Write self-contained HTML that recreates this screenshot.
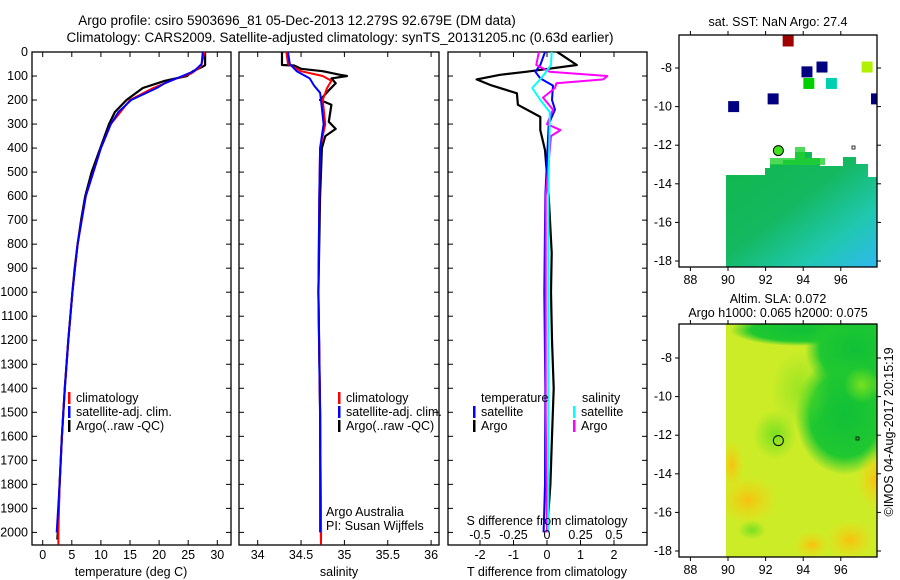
<!DOCTYPE html>
<html><head><meta charset="utf-8"><style>
body{margin:0;background:#fff}
svg{display:block;font-family:"Liberation Sans",sans-serif}
text{font-size:12.5px;fill:#000}
</style></head><body>
<svg id="c" width="900" height="580" viewBox="0 0 900 580" xmlns="http://www.w3.org/2000/svg">
<defs>
<linearGradient id="sstg" x1="0" y1="0" x2="1" y2="1">
<stop offset="0" stop-color="#10b84a"/><stop offset="0.45" stop-color="#14b860"/><stop offset="0.75" stop-color="#20c8b0"/><stop offset="1" stop-color="#30b8f0"/></linearGradient>
<radialGradient id="gblob"><stop offset="0" stop-color="#10c038"/><stop offset="0.7" stop-color="#20c830"/><stop offset="1" stop-color="#20c830" stop-opacity="0"/></radialGradient>
<radialGradient id="oblob"><stop offset="0" stop-color="#f8c010"/><stop offset="1" stop-color="#f0d810" stop-opacity="0"/></radialGradient>
<radialGradient id="lblob"><stop offset="0" stop-color="#78e020"/><stop offset="1" stop-color="#78e020" stop-opacity="0"/></radialGradient>
<clipPath id="m2clip"><rect x="726" y="324" width="151" height="233"/></clipPath>
</defs>
<text x="297" y="25" text-anchor="middle" style="font-size:13.5px">Argo profile: csiro 5903696_81 05-Dec-2013 12.279S 92.679E (DM data)</text>
<text x="340" y="42" text-anchor="middle" style="font-size:13.5px">Climatology: CARS2009. Satellite-adjusted climatology: synTS_20131205.nc (0.63d earlier)</text>
<g id="g"></g>
</svg>
<script>
// ---- data ----
const depthTicks=[0,100,200,300,400,500,600,700,800,900,1000,1100,1200,1300,1400,1500,1600,1700,1800,1900,2000];
const tempTicks=[0,5,10,15,20,25,30];
const salTicks=[34,34.5,35,35.5,36];
const tdiffTicks=[-2,-1,0,1,2];
const sdiffTicks=[-0.5,-0.25,0,0.25,0.5];
const sdiffLabels=["-0.5","-0.25","0","0.25","0.5"];
// temperature
const argoTdep=[0,55,62,80,100,120,150,200,250,300,400,500,600,700,800,900,1000,1200,1400,1600,1800,2000,2030];
const argoT=[27.9,27.9,27.4,25.8,24.8,21,17.2,14.4,12.4,11.4,9.9,8.4,7.3,6.6,6.0,5.5,5.1,4.4,3.8,3.3,2.9,2.6,2.5];
const climTdep=[0,60,90,110,150,200,300,400,600,800,1000,1200,1400,1600,1800,2000,2050];
const climT=[27.8,27.2,25.5,23,19,15,11.7,10,7.4,6.0,5.1,4.4,3.8,3.3,2.9,2.7,2.7];
const satTdep=[0,50,80,100,130,150,200,250,300,400,600,800,1000,1200,1400,1600,1800,2000];
const satT=[27.5,27.3,26,24,21,19.6,15.2,13,11.7,10,7.4,6.0,5.1,4.4,3.8,3.3,2.9,2.4];
// salinity
const argoSdep=[0,54,56,70,80,95,100,110,130,160,200,220,290,320,350,400,600,1000,1500,2000,2030];
const argoS=[34.28,34.28,34.42,34.5,34.75,34.95,35.03,34.85,34.9,34.82,34.72,34.85,34.82,34.9,34.78,34.74,34.72,34.7,34.72,34.73,34.73];
const climSdep=[0,50,80,100,120,150,200,300,400,600,1000,1500,2000,2050];
const climS=[34.33,34.35,34.5,34.75,34.85,34.8,34.75,34.78,34.72,34.71,34.7,34.72,34.73,34.73];
const satSdep=[0,50,80,110,140,170,200,300,400,600,1000,1500,2000];
const satS=[34.35,34.37,34.45,34.6,34.65,34.72,34.73,34.76,34.72,34.71,34.7,34.72,34.72];
// differences
const tdDep=[0,12,54,82,95,114,137,172,220,270,325,408,600,837,1000,1200,1400,1600,1800,2000];
const argoTd=[0.3,0.44,0.89,-0.6,-1.4,-2.1,-1.7,-0.9,-0.87,-0.2,-0.2,-0.06,0.05,0.14,0.12,0.15,0.2,0.15,0.1,0.0];
const satTdDep=[0,54,82,110,140,200,240,300,600,1000,1400,1800,2000];
const satTd=[-0.06,-0.2,-0.35,-0.2,0.18,0.15,0.24,0.05,-0.05,-0.08,-0.05,-0.06,-0.1];
const sdDep=[0,12,54,82,100,114,130,150,190,240,300,325,350,600,1000,1500,2000];
const argoSd=[-0.06,-0.065,-0.08,0.02,0.45,0.42,0.07,0.06,-0.03,0.045,0,0.1,0.03,-0.01,-0.01,-0.01,0];
const satSdDep=[0,54,100,150,200,250,300,600,1000,1500,2000];
const satSd=[0.035,0.03,-0.03,-0.11,-0.05,0.02,0.02,0.01,0.01,0.01,0.01];
// map scatter (lon, lat, color)
const sstLon=[93.2,94.2,95.0,94.3,95.5,97.4,97.9,92.4,90.3];
const sstLat=[-6.6,-8.2,-7.95,-8.8,-8.8,-7.95,-9.6,-9.6,-10.0];
const sstCol=["#a00000","#000080","#000080","#00d000","#00d0b0","#b0f000","#000080","#000080","#000080"];
const argoLon=92.679, argoLat=-12.279;

// ---- scales ----
const TOP=52, BOT=545;
const yD=d=>TOP+d*0.2402;
const xT=t=>42.7+t*5.82;
const xS=s=>257.7+(s-34)*86.7;
const xTd=v=>547+v*33.5;
const xSd=v=>547+v*134;
const mx=lon=>728+(lon-90)*18.8;
const my1=lat=>68+(-8-lat)*19.3;
const my2=lat=>358+(-8-lat)*19.3;

const NS="http://www.w3.org/2000/svg";
const G=document.getElementById('g');
function el(tag,attrs,parent){const e=document.createElementNS(NS,tag);for(const k in attrs)e.setAttribute(k,attrs[k]);(parent||G).appendChild(e);return e;}
function txt(x,y,s,anchor,parent){const t=el('text',{x:x,y:y,'text-anchor':anchor||'start'},parent);t.textContent=s;return t;}

function panel(x0,x1,name){
  const b=el('rect',{x:x0,y:TOP,width:x1-x0,height:BOT-TOP,fill:'none',stroke:'#000','stroke-width':1.3});
  
  
  depthTicks.forEach(d=>{
    el('line',{x1:x0,x2:x0+5,y1:yD(d),y2:yD(d),stroke:'#000'});
    el('line',{x1:x1,x2:x1-5,y1:yD(d),y2:yD(d),stroke:'#000'});
  });
}
function xticks(x0,x1,ticks,fx,labels,ylab){
  ticks.forEach((t,i)=>{
    el('line',{x1:fx(t),x2:fx(t),y1:BOT,y2:BOT-5,stroke:'#000'});
    el('line',{x1:fx(t),x2:fx(t),y1:TOP,y2:TOP+5,stroke:'#000'});
    const l=txt(fx(t),ylab,labels?labels[i]:String(t),'middle');
    
    
  });
}
function line(deps,vals,fx,color,w,name){
  const pts=deps.map((d,i)=>fx(vals[i]).toFixed(1)+','+yD(d).toFixed(1)).join(' ');
  const p=el('polyline',{points:pts,fill:'none',stroke:color,'stroke-width':w,'stroke-linejoin':'round'});
  
  
}
function legend(x,y,color,label){
  el('rect',{x:x,y:y-10,width:2.5,height:12,fill:color});
  const t=txt(x+8,y,label);
  
  
}

// depth labels
depthTicks.forEach(d=>{const t=txt(28,yD(d)+4,String(d),'end');
  
  });

// panel 1
panel(32,231,'temperature-panel');
xticks(32,231,tempTicks,xT,null,559);
line(argoTdep,argoT,xT,'#000',2.2,'argo-temperature-line');
line(climTdep,climT,xT,'#f00',2,'clim-temperature-line');
line(satTdep,satT,xT,'#00f',2,'sat-temperature-line');
txt(131,576,'temperature (deg C)','middle');
legend(68,402,'#f00','climatology');legend(68,416,'#00f','satellite-adj. clim.');legend(68,430,'#000','Argo(..raw -QC)');

// panel 2
panel(239,439,'salinity-panel');
xticks(239,439,salTicks,xS,null,559);
line(argoSdep,argoS,xS,'#000',2.2,'argo-salinity-line');
line(climSdep,climS,xS,'#f00',2,'clim-salinity-line');
line(satSdep,satS,xS,'#00f',2,'sat-salinity-line');
txt(339,576,'salinity','middle');
legend(338,402,'#f00','climatology');legend(338,416,'#00f','satellite-adj. clim.');legend(338,430,'#000','Argo(..raw -QC)');
txt(326,516,'Argo Australia');
txt(326,530,'PI: Susan Wijffels');

// panel 3
panel(448,647,'difference-panel');
xticks(448,647,tdiffTicks,xTd,null,559);
sdiffTicks.forEach(v=>{el('line',{x1:xSd(v),x2:xSd(v),y1:BOT,y2:BOT-4,stroke:'#000'});});
line(tdDep,argoTd,xTd,'#000',2.2,'argo-tdiff-line');
line(satTdDep,satTd,xTd,'#00f',2,'sat-tdiff-line');
line(sdDep,argoSd,xSd,'#f0f',2,'argo-sdiff-line');
line(satSdDep,satSd,xSd,'#0ff',2,'sat-sdiff-line');
sdiffTicks.forEach((v,i)=>txt(xSd(v),539,sdiffLabels[i],'middle'));
txt(547,525,'S difference from climatology','middle');
txt(547,576,'T difference from climatology','middle');
txt(481,402,'temperature');legend(473,416,'#00f','satellite');legend(473,430,'#000','Argo');
txt(582,402,'salinity');legend(573,416,'#0ff','satellite');legend(573,430,'#f0f','Argo');

// map 1
const m1=el('g',{});


el('path',{d:'M726 175 L765 175 L765 168 L770 168 L770 164 L783 164 L783 160 L795 160 L795 152 L812 152 L812 158 L820 158 L820 166 L843 166 L843 157 L856 157 L856 164 L868 164 L868 177 L877 177 L877 267 L726 267 Z',fill:'url(#sstg)'},m1);
el('path',{d:'M770 158 L795 158 L795 147 L805 147 L805 158 L825 158 L825 165 L770 165Z',fill:'#20d030',opacity:0.8},m1);
sstLon.forEach((lo,i)=>{const r=el('rect',{x:mx(lo)-5.5,y:Math.max(35,my1(sstLat[i])-5.5),width:11,height:Math.min(11,my1(sstLat[i])+5.5-35),fill:sstCol[i]},m1);
  
  });
el('rect',{x:877,y:35,width:23,height:232,fill:'#fff'},m1);
el('circle',{cx:mx(argoLon),cy:my1(argoLat),r:5,fill:'#40e020',stroke:'#000'},m1);
el('rect',{x:852,y:146,width:3,height:3,fill:'none',stroke:'#000','stroke-width':0.8},m1);
el('rect',{x:679,y:35,width:198,height:232,fill:'none',stroke:'#000','stroke-width':1.3},m1);
txt(778,26,'sat. SST: NaN Argo: 27.4','middle');

// map 2
const m2=el('g',{});


const c2=el('g',{'clip-path':'url(#m2clip)'},m2);
el('rect',{x:726,y:324,width:151,height:233,fill:'#cdec28'},c2);
el('ellipse',{cx:800,cy:330,rx:70,ry:16,fill:'url(#gblob)'},c2);
el('ellipse',{cx:855,cy:350,rx:50,ry:45,fill:'url(#gblob)'},c2);
el('ellipse',{cx:845,cy:415,rx:50,ry:60,fill:'url(#gblob)'},c2);
el('ellipse',{cx:862,cy:385,rx:18,ry:18,fill:'url(#lblob)'},c2);
el('ellipse',{cx:775,cy:435,rx:22,ry:25,fill:'url(#lblob)'},c2);
el('ellipse',{cx:800,cy:390,rx:30,ry:40,fill:'url(#lblob)',opacity:0.6},c2);
el('ellipse',{cx:748,cy:500,rx:30,ry:25,fill:'url(#oblob)'},c2);
el('ellipse',{cx:732,cy:465,rx:12,ry:25,fill:'url(#oblob)'},c2);
el('ellipse',{cx:850,cy:540,rx:25,ry:20,fill:'url(#oblob)'},c2);
el('ellipse',{cx:812,cy:545,rx:18,ry:14,fill:'url(#oblob)'},c2);
el('ellipse',{cx:875,cy:480,rx:18,ry:30,fill:'url(#oblob)'},c2);
el('ellipse',{cx:752,cy:530,rx:14,ry:10,fill:'url(#lblob)'},c2);
el('circle',{cx:mx(argoLon),cy:my2(argoLat),r:5,fill:'none',stroke:'#000'},m2);
el('rect',{x:856,y:437,width:3,height:3,fill:'none',stroke:'#000','stroke-width':0.8},m2);
el('rect',{x:679,y:324,width:198,height:233,fill:'none',stroke:'#000','stroke-width':1.3},m2);
txt(778,303,'Altim. SLA: 0.072','middle');
txt(778,317,'Argo h1000: 0.065 h2000: 0.075','middle');

// map ticks
const lonTicks=[88,90,92,94,96];
const latTicks=[-8,-10,-12,-14,-16,-18];
[[35,267,my1],[324,557,my2]].forEach(([t,b,fy])=>{
  lonTicks.forEach(lo=>{el('line',{x1:mx(lo),x2:mx(lo),y1:t,y2:t-4,stroke:'#000'});el('line',{x1:mx(lo),x2:mx(lo),y1:b,y2:b+4,stroke:'#000'});
    const l=txt(mx(lo),b+17,String(lo),'middle');});
  latTicks.forEach(la=>{el('line',{x1:679,x2:675,y1:fy(la),y2:fy(la),stroke:'#000'});el('line',{x1:877,x2:881,y1:fy(la),y2:fy(la),stroke:'#000'});
    const l=txt(672,fy(la)+4,String(la),'end');});
});
const cr=txt(0,0,'©IMOS 04-Aug-2017 20:15:19','middle');
cr.setAttribute('transform','translate(893,432) rotate(-90)');


</script>
</body></html>
